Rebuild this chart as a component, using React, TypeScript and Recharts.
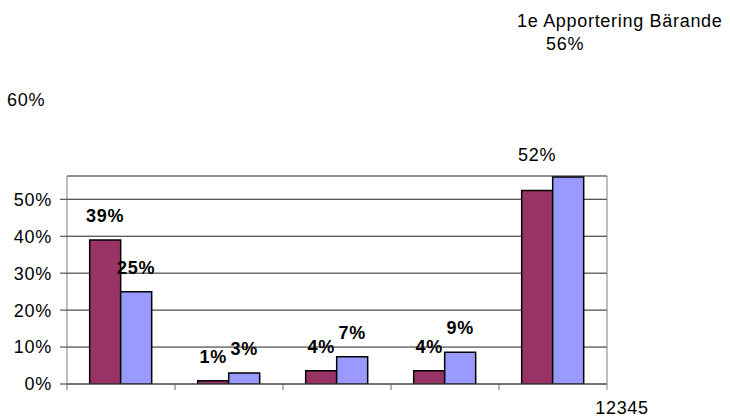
import React from "react";
import { BarChart, Bar, XAxis, YAxis, CartesianGrid, LabelList } from "recharts";

const categories = ["1", "2", "3", "4", "5"];
const series1 = [0.39, 0.009, 0.036, 0.036, 0.524];
const series2 = [0.25, 0.03, 0.074, 0.086, 0.56];
const yTicks = [0, 0.1, 0.2, 0.3, 0.4, 0.5];
const strayTick = 0.6;
const series1Name = "Serie 1";
const series2Name = "1e Apportering Bärande";

const W = 730;
const H = 419;
const PLOT_LEFT = 67;
const PLOT_RIGHT = 607;
const FONT = "'Liberation Sans', Arial, sans-serif";
const band = (PLOT_RIGHT - PLOT_LEFT) / categories.length;

const data = categories.map((c, i) => ({ cat: c, s1: series1[i], s2: series2[i] }));
const pct = (v: number) => `${Math.round(v * 100)}%`;

function makeLabel(lastMode: "raised" | "hidden") {
  return (props: any) => {
    const { x, y, width, value, index } = props;
    const last = index === categories.length - 1;
    if (last && lastMode === "hidden") return null;
    const cx = Number(x) + Number(width) / 2;
    const by = Number(y) - (last ? 29 : 18);
    return (
      <text
        x={cx}
        y={by}
        textAnchor="middle"
        fontFamily={FONT}
        fontSize={18}
        fontWeight={last ? "normal" : "bold"}
        letterSpacing={0.7}
        fill="#000"
      >
        {pct(Number(value))}
      </text>
    );
  };
}

const XTick = (props: any) => {
  const { x, y, index } = props;
  const last = index === categories.length - 1;
  return (
    <g>
      <line x1={x - band / 2} x2={x - band / 2} y1={y} y2={y + 6} stroke="#666" />
      {last && <line x1={x + band / 2} x2={x + band / 2} y1={y} y2={y + 6} stroke="#808080" />}
    </g>
  );
};

export default function App() {
  return (
    <div style={{ position: "absolute", left: 0, top: 0, width: W, height: H, background: "#fff" }}>
      <BarChart
        width={W}
        height={H}
        data={data}
        margin={{ top: 176, right: 122, bottom: 25, left: 7 }}
        barCategoryGap="21%"
        barGap={0}
      >
        <CartesianGrid yAxisId="l" vertical={false} stroke="#222" />
        <XAxis
          dataKey="cat"
          height={10}
          tickSize={0}
          tickMargin={0}
          tickLine={false}
          interval={0}
          tick={<XTick />}
          axisLine={{ stroke: "#555" }}
        />
        <YAxis
          yAxisId="l"
          width={60}
          domain={[0, 0.563]}
          ticks={yTicks}
          tickFormatter={pct}
          tickSize={7}
          tickMargin={8}
          tickLine={{ stroke: "#333" }}
          axisLine={{ stroke: "#808080" }}
          tick={{ fill: "#000", fontSize: 18, fontFamily: FONT, letterSpacing: 0.7 }}
          allowDataOverflow
        />
        <YAxis
          yAxisId="r"
          orientation="right"
          width={1}
          domain={[0, 0.563]}
          tick={false}
          tickLine={false}
          axisLine={{ stroke: "#808080" }}
        />
        <Bar yAxisId="l" dataKey="s1" name={series1Name} fill="#993366" stroke="#000" strokeWidth={1.5} isAnimationActive={false}>
          <LabelList dataKey="s1" content={makeLabel("raised")} />
        </Bar>
        <Bar yAxisId="l" dataKey="s2" name={series2Name} fill="#9999FF" stroke="#000" strokeWidth={1.5} isAnimationActive={false}>
          <LabelList dataKey="s2" content={makeLabel("hidden")} />
        </Bar>
      </BarChart>
      <svg
        width={W}
        height={H}
        style={{ position: "absolute", left: 0, top: 0, pointerEvents: "none" }}
        fontFamily={FONT}
        fontSize={18}
        letterSpacing={0.7}
      >
        <text x={7} y={106} fill="#000">{pct(strayTick)}</text>
        <text x={517} y={27} fill="#000">{series2Name}</text>
        <text x={546} y={50} fill="#000">{pct(series2[series2.length - 1])}</text>
        <text x={622} y={414} textAnchor="middle" fill="#000">{categories.join("")}</text>
      </svg>
    </div>
  );
}
